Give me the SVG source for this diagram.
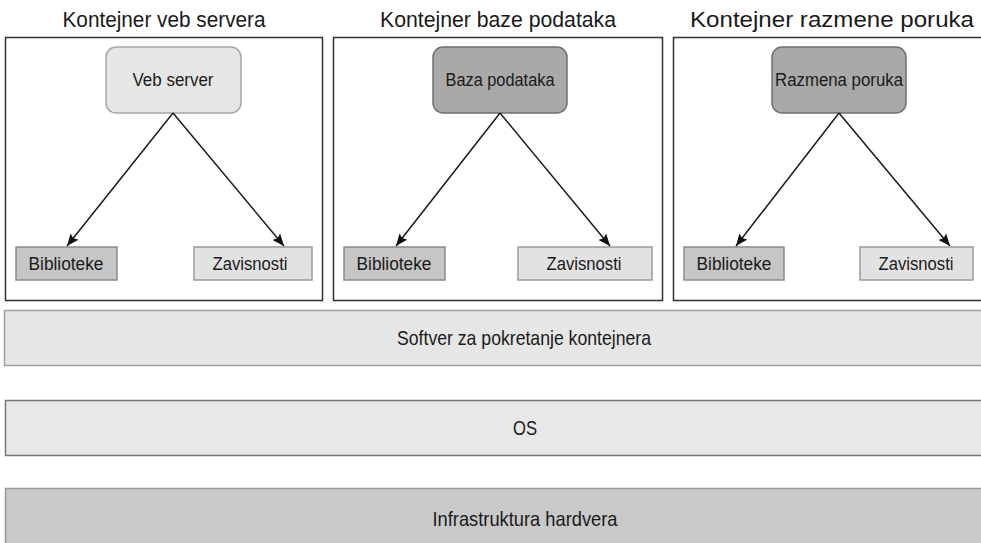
<svg xmlns="http://www.w3.org/2000/svg" width="981" height="543" viewBox="0 0 981 543">
<defs>
<marker id="ah" viewBox="0 0 12 10" refX="12" refY="5" markerWidth="12" markerHeight="10" markerUnits="userSpaceOnUse" orient="auto">
<path d="M0,0 L12,5 L0,10 L2,5 z" fill="#111"/>
</marker>
<style>
text{font-family:"Liberation Sans",Arial,sans-serif;fill:#1a1a1a;text-anchor:middle}
.title{font-size:22px}
.lbl{font-size:17.5px}
.bar{font-size:21px}
.cont{fill:#fff;stroke:#333;stroke-width:1.5}
.light{fill:#e6e6e6;stroke:#a6a6a6;stroke-width:1.5}
.dark{fill:#a9a9a9;stroke:#6f6f6f;stroke-width:1.5}
.lib{fill:#c6c6c6;stroke:#8a8a8a;stroke-width:1.5}
.dep{fill:#e2e2e2;stroke:#9a9a9a;stroke-width:1.5}
.conn line{stroke:#1a1a1a;stroke-width:1.5;marker-end:url(#ah)}
</style>
</defs>
<rect width="981" height="543" fill="#fff"/>

<g id="container-web">
<text class="title" x="164" y="27" textLength="203" lengthAdjust="spacingAndGlyphs">Kontejner veb servera</text>
<rect class="cont" x="5.5" y="37.5" width="317" height="263"/>
</g>
<g id="container-db">
<text class="title" x="498" y="27" textLength="236" lengthAdjust="spacingAndGlyphs">Kontejner baze podataka</text>
<rect class="cont" x="333.5" y="37.5" width="329" height="263"/>
</g>
<g id="container-msg">
<text class="title" x="832" y="27" textLength="284" lengthAdjust="spacingAndGlyphs">Kontejner razmene poruka</text>
<rect class="cont" x="673.5" y="37.5" width="320" height="263"/>
</g>

<g id="node-web-server">
<rect class="light" x="106" y="47" width="135" height="66" rx="10"/>
<text class="lbl" x="173" y="86" textLength="81" lengthAdjust="spacingAndGlyphs">Veb server</text>
</g>
<g id="node-database">
<rect class="dark" x="433" y="47" width="134" height="66" rx="10"/>
<text class="lbl" x="500" y="86" textLength="109" lengthAdjust="spacingAndGlyphs">Baza podataka</text>
</g>
<g id="node-messaging">
<rect class="dark" x="772" y="47" width="134" height="66" rx="10"/>
<text class="lbl" x="839" y="86" textLength="128" lengthAdjust="spacingAndGlyphs">Razmena poruka</text>
</g>

<g id="lib-1"><rect class="lib" x="16" y="247" width="101" height="33"/><text class="lbl" x="66" y="270" textLength="75" lengthAdjust="spacingAndGlyphs">Biblioteke</text></g>
<g id="dep-1"><rect class="dep" x="194" y="247" width="118" height="33"/><text class="lbl" x="250" y="270" textLength="75" lengthAdjust="spacingAndGlyphs">Zavisnosti</text></g>
<g id="lib-2"><rect class="lib" x="344" y="247" width="101" height="33"/><text class="lbl" x="394" y="270" textLength="75" lengthAdjust="spacingAndGlyphs">Biblioteke</text></g>
<g id="dep-2"><rect class="dep" x="518" y="247" width="134" height="33"/><text class="lbl" x="584" y="270" textLength="75" lengthAdjust="spacingAndGlyphs">Zavisnosti</text></g>
<g id="lib-3"><rect class="lib" x="684" y="247" width="100" height="33"/><text class="lbl" x="734" y="270" textLength="75" lengthAdjust="spacingAndGlyphs">Biblioteke</text></g>
<g id="dep-3"><rect class="dep" x="860" y="247" width="113" height="33"/><text class="lbl" x="916" y="270" textLength="75" lengthAdjust="spacingAndGlyphs">Zavisnosti</text></g>

<g id="connectors" class="conn">
<line x1="173" y1="113" x2="67" y2="246"/>
<line x1="173" y1="113" x2="284" y2="246"/>
<line x1="500" y1="113" x2="396" y2="246"/>
<line x1="500" y1="113" x2="610" y2="246"/>
<line x1="839" y1="113" x2="736" y2="246"/>
<line x1="839" y1="113" x2="950" y2="246"/>
</g>

<g id="runtime">
<rect x="4.5" y="310.5" width="990" height="55" fill="#e6e6e6" stroke="#a0a0a0" stroke-width="1.5"/>
<text class="bar" x="524" y="345" textLength="254" lengthAdjust="spacingAndGlyphs">Softver za pokretanje kontejnera</text>
</g>
<g id="os">
<rect x="5.5" y="400.5" width="990" height="55" fill="#e8e8e8" stroke="#777" stroke-width="1.5"/>
<text class="bar" x="525" y="435" textLength="24" lengthAdjust="spacingAndGlyphs">OS</text>
</g>
<g id="hardware">
<rect x="5.5" y="488.5" width="990" height="60" fill="#c9c9c9" stroke="#999" stroke-width="1.5"/>
<text class="bar" x="525" y="526" textLength="185" lengthAdjust="spacingAndGlyphs">Infrastruktura hardvera</text>
</g>
</svg>
